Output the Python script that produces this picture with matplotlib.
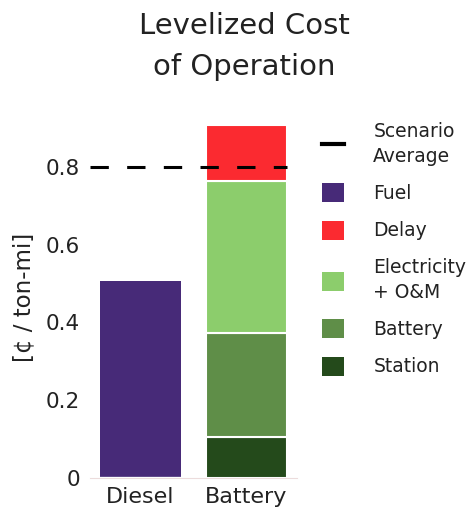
import matplotlib
matplotlib.use("Agg")
from matplotlib import pyplot as plt
from matplotlib.patches import Patch
from matplotlib.lines import Line2D

# Daten
vehicles = ["Diesel", "Battery"]
fuel = [0.506, 0.0]
station = [0.0, 0.105]
battery = [0.0, 0.267]
electricity_om = [0.0, 0.392]
delay = [0.0, 0.143]
scenario_average = 0.8

yticks = [0, 0.2, 0.4, 0.6, 0.8]
ytick_labels = ["0", "0.2", "0.4", "0.6", "0.8"]

colors = {
    "Fuel": "#472a78",
    "Delay": "#fb2a30",
    "Electricity\n+ O&M": "#8ccd6c",
    "Battery": "#5f8e48",
    "Station": "#244a1b",
}

plt.rcParams["font.family"] = ["DejaVu Sans"]

fig = plt.figure(figsize=(4.73, 5.08), dpi=100)
ax = fig.add_axes([0.19, 0.0596, 0.438, 0.711])

x = range(len(vehicles))
width = 0.77

ax.bar(x, fuel, width, color=colors["Fuel"])

# Batterie-Balken gestapelt
bottom = [0.0, 0.0]
for vals, name in [(station, "Station"), (battery, "Battery"),
                   (electricity_om, "Electricity\n+ O&M"), (delay, "Delay")]:
    ax.bar(x, vals, width, bottom=bottom, color=colors[name],
           edgecolor="white", linewidth=1.5)
    bottom = [b + v for b, v in zip(bottom, vals)]

ax.set_xlim(-0.48, 1.48)
ax.set_ylim(0, 0.93)
ax.hlines(scenario_average, -0.48, 1 + width / 2, colors="black",
          linewidth=2.2, linestyles=(0, (6, 6)), zorder=5)

ax.set_yticks(yticks)
ax.set_yticklabels(ytick_labels)
ax.set_xticks(list(x))
ax.set_xticklabels(vehicles)
ax.tick_params(axis="both", length=0, labelsize=15.5, colors="#222222")
ax.tick_params(axis="y", pad=7)
ax.tick_params(axis="x", pad=7, labelsize=16)
ax.set_ylabel("[¢ / ton-mi]", fontsize=16.5, color="#222222", labelpad=8)

for s in ["top", "right", "left"]:
    ax.spines[s].set_visible(False)
ax.spines["bottom"].set_color("#ecdcdc")

fig.text(0.516, 0.9085, "Levelized Cost\nof Operation", ha="center", va="center",
         fontsize=21, color="#222222", linespacing=1.6)

handles = [Line2D([0], [0], color="black", linewidth=3)]
labels = ["Scenario\nAverage"]
for name in ["Fuel", "Delay", "Electricity\n+ O&M", "Battery", "Station"]:
    handles.append(Patch(facecolor=colors[name]))
    labels.append(name)

leg = fig.legend(handles, labels, loc="upper left", bbox_to_anchor=(0.681, 0.76),
                 frameon=False, fontsize=13.5, handlelength=1.18, handleheight=1.18,
                 handletextpad=1.55, labelspacing=0.93, borderpad=0, borderaxespad=0,
                 labelcolor="#222222")
for t in leg.get_texts():
    t.set_linespacing(1.4)

plt.savefig("out.png", dpi=100)
